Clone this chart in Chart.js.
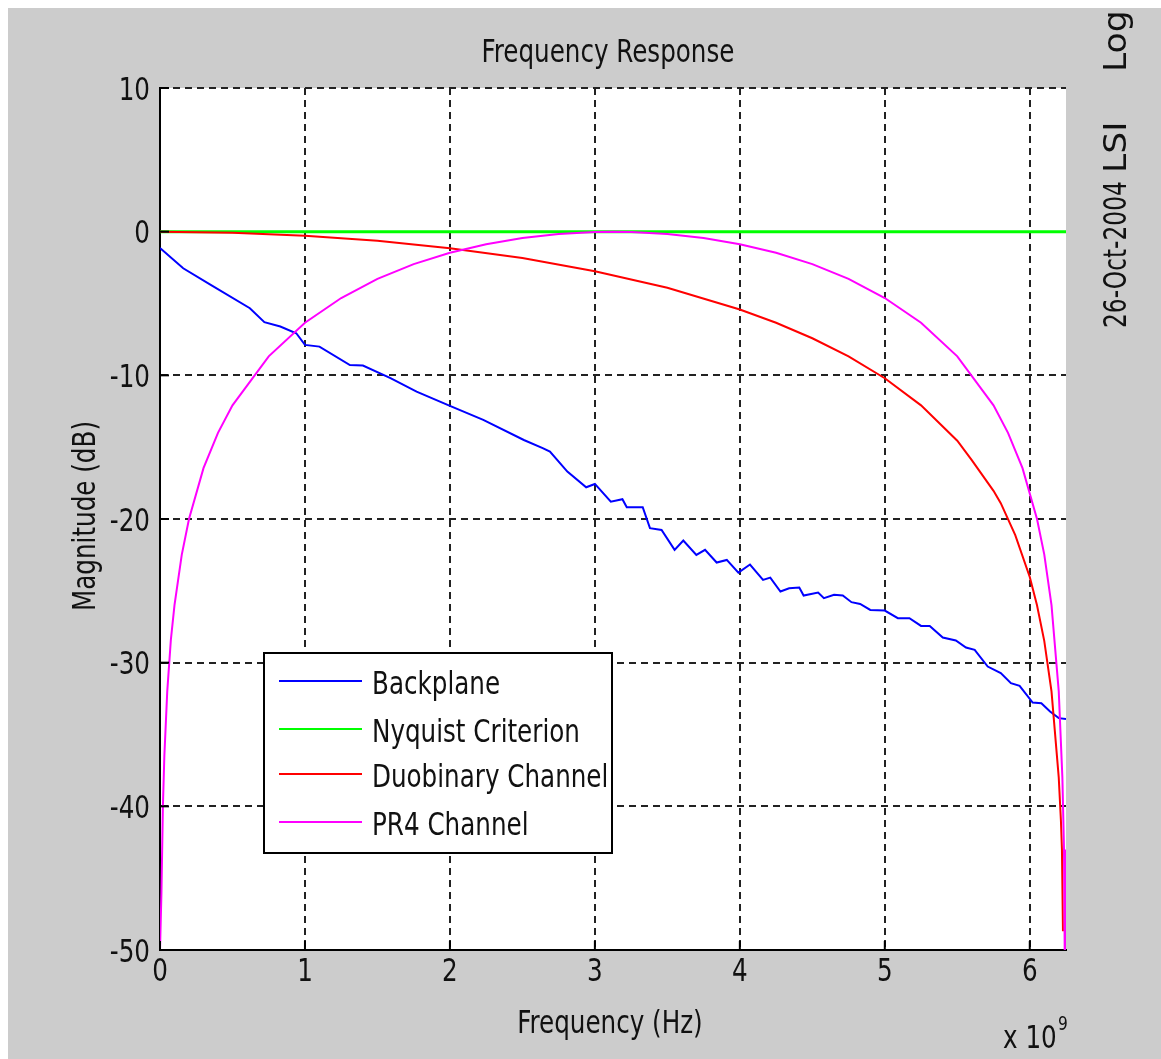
<!DOCTYPE html>
<html>
<head>
<meta charset="utf-8">
<title>Frequency Response</title>
<script src="https://cdn.jsdelivr.net/npm/chart.js@4.4.1/dist/chart.umd.min.js"></script>
<style>
  html, body { margin: 0; padding: 0; background: #ffffff; }
  #wrap { position: absolute; left: 8px; top: 8px; width: 1153px; height: 1051px; background: #cccccc; }
</style>
</head>
<body>
<div id="wrap"><canvas id="chart" width="1153" height="1051"></canvas></div>
<script>
// Frequency in units of 1e9 Hz, magnitude in dB
const freqBackplane = [0, 0.01, 0.16, 0.35, 0.62, 0.72, 0.83, 0.94, 1.00, 1.10, 1.31, 1.40, 1.59, 1.77, 2.00, 2.23, 2.51, 2.64, 2.69, 2.81, 2.94, 3.00, 3.11, 3.19, 3.22, 3.33, 3.38, 3.46, 3.55, 3.61, 3.70, 3.76, 3.84, 3.91, 3.99, 4.07, 4.16, 4.21, 4.28, 4.34, 4.41, 4.44, 4.54, 4.58, 4.65, 4.71, 4.77, 4.83, 4.90, 5.00, 5.09, 5.17, 5.25, 5.31, 5.40, 5.49, 5.56, 5.62, 5.71, 5.80, 5.87, 5.93, 6.02, 6.08, 6.14, 6.20, 6.25];
const magBackplane = [-1.15, -1.22, -2.55, -3.71, -5.33, -6.3, -6.6, -7.07, -7.88, -8.0, -9.28, -9.32, -10.2, -11.13, -12.13, -13.1, -14.5, -15.07, -15.31, -16.7, -17.79, -17.56, -18.79, -18.62, -19.18, -19.18, -20.64, -20.76, -22.15, -21.5, -22.5, -22.15, -23.03, -22.85, -23.73, -23.17, -24.24, -24.08, -25.05, -24.82, -24.77, -25.33, -25.12, -25.51, -25.28, -25.33, -25.79, -25.91, -26.33, -26.37, -26.9, -26.9, -27.44, -27.44, -28.25, -28.46, -28.95, -29.11, -30.27, -30.73, -31.43, -31.61, -32.78, -32.82, -33.4, -33.86, -33.93];

const freqNyquist = [0, 6.25];
const magNyquist = [0, 0];

const freqDuobinary = [0, 0.5, 1, 1.5, 2, 2.5, 3, 3.5, 4, 4.25, 4.5, 4.75, 5, 5.25, 5.5, 5.6, 5.75, 5.8, 5.9, 6.0, 6.05, 6.1, 6.15, 6.2, 6.215, 6.222, 6.229];
const magDuobinary = [0, -0.07, -0.28, -0.63, -1.15, -1.84, -2.75, -3.91, -5.42, -6.34, -7.42, -8.68, -10.2, -12.09, -14.55, -15.9, -18.04, -18.9, -21.12, -24.04, -26.0, -28.48, -32.0, -38.0, -41.0, -43.0, -48.7];

const freqPR4 = [0, 0.01, 0.02, 0.03, 0.05, 0.075, 0.1, 0.15, 0.2, 0.3, 0.4, 0.5, 0.75, 1.0, 1.25, 1.5, 1.75, 2.0, 2.25, 2.5, 2.75, 3.0, 3.125, 3.25, 3.5, 3.75, 4.0, 4.25, 4.5, 4.75, 5.0, 5.25, 5.5, 5.75, 5.85, 5.95, 6.05, 6.1, 6.15, 6.2, 6.225, 6.236, 6.241, 6.246, 6.25];
const magPR4 = [-50, -46, -40, -36.5, -32, -28.4, -26, -22.5, -20, -16.46, -14, -12.09, -8.68, -6.34, -4.62, -3.29, -2.26, -1.47, -0.87, -0.44, -0.16, -0.02, 0, -0.02, -0.16, -0.44, -0.87, -1.47, -2.26, -3.29, -4.62, -6.34, -8.68, -12.09, -14, -16.46, -20, -22.46, -26, -32, -38, -42.9, -50, -43, -50];

const xTicks = [0, 1, 2, 3, 4, 5, 6];
const xTickLabels = ['0', '1', '2', '3', '4', '5', '6'];
const yTicks = [10, 0, -10, -20, -30, -40, -50];
const yTickLabels = ['10', '0', '-10', '-20', '-30', '-40', '-50'];

const FONT = "'DejaVu Sans Condensed', 'DejaVu Sans', sans-serif";
const SX = 0.855; // schmale Schrift wie im MATLAB-Export

function toPoints(xs, ys) {
    return xs.map((x, i) => ({ x: x, y: ys[i] }));
}

function drawLabel(ctx, text, x, y, align, rot, size, sx) {
    ctx.save();
    ctx.translate(x, y);
    if (rot) ctx.rotate(rot);
    ctx.scale(sx || SX, 1);
    ctx.font = (size || 32) + 'px ' + FONT;
    ctx.textAlign = align;
    ctx.textBaseline = 'alphabetic';
    ctx.fillText(text, 0, 0);
    ctx.restore();
}

// Texte, Legende, Ticks nach innen
const decorPlugin = {
    id: 'decor',
    beforeDraw(chart) {
        const { ctx, chartArea: a } = chart;
        ctx.save();
        ctx.fillStyle = '#ffffff';
        ctx.fillRect(a.left, a.top, a.right - a.left, a.bottom - a.top);
        ctx.restore();
    },
    afterDraw(chart) {
        const { ctx, chartArea: a, scales } = chart;
        ctx.save();

        // inward tick marks
        ctx.strokeStyle = '#000';
        ctx.lineWidth = 2;
        xTicks.forEach(v => {
            const px = scales.x.getPixelForValue(v);
            ctx.beginPath();
            ctx.moveTo(px, a.bottom);
            ctx.lineTo(px, a.bottom - 9);
            ctx.stroke();
        });
        yTicks.forEach(v => {
            const py = scales.y.getPixelForValue(v);
            ctx.beginPath();
            ctx.moveTo(a.left, py);
            ctx.lineTo(a.left + 9, py);
            ctx.stroke();
        });

        ctx.fillStyle = '#111';

        // tick labels
        xTicks.forEach((v, i) => {
            drawLabel(ctx, xTickLabels[i], scales.x.getPixelForValue(v), a.bottom + 31, 'center');
        });
        yTicks.forEach((v, i) => {
            drawLabel(ctx, yTickLabels[i], a.left - 10, scales.y.getPixelForValue(v) + 11.5, 'right');
        });

        // title + axis titles
        drawLabel(ctx, 'Frequency Response', 600, 54, 'center');
        drawLabel(ctx, 'Frequency (Hz)', 602, 1025, 'center');
        drawLabel(ctx, 'Magnitude (dB)', 87, 508, 'center', -Math.PI / 2);

        // exponent
        drawLabel(ctx, 'x 10', 995, 1040, 'left');
        drawLabel(ctx, '9', 1050, 1022, 'left', 0, 20);

        // date stamp (rotated, right margin)
        drawLabel(ctx, '26-Oct-2004', 1118, 320, 'left', -Math.PI / 2, 32, 0.81);
        drawLabel(ctx, 'LSI', 1118, 165, 'left', -Math.PI / 2, 32, 1.2);
        drawLabel(ctx, 'Log', 1118, 64, 'left', -Math.PI / 2, 32, 1.2);

        // legend
        const box = { left: 256, top: 645, right: 604, bottom: 845 };
        ctx.fillStyle = '#ffffff';
        ctx.fillRect(box.left, box.top, box.right - box.left, box.bottom - box.top);
        ctx.strokeStyle = '#000';
        ctx.lineWidth = 2;
        ctx.strokeRect(box.left, box.top, box.right - box.left, box.bottom - box.top);
        const rows = [673, 721, 766, 814];
        chart.data.datasets.forEach((ds, i) => {
            ctx.strokeStyle = ds.borderColor;
            ctx.lineWidth = 2;
            ctx.beginPath();
            ctx.moveTo(271, rows[i]);
            ctx.lineTo(354, rows[i]);
            ctx.stroke();
            ctx.fillStyle = '#111';
            drawLabel(ctx, ds.label, 364, rows[i] + 13, 'left');
        });

        ctx.restore();
    }
};

const ctx = document.getElementById('chart').getContext('2d');
new Chart(ctx, {
    type: 'line',
    data: {
        datasets: [
            { label: 'Backplane', data: toPoints(freqBackplane, magBackplane), borderColor: '#0000ff', order: 4 },
            { label: 'Nyquist Criterion', data: toPoints(freqNyquist, magNyquist), borderColor: '#00ff00', borderWidth: 3, order: 3 },
            { label: 'Duobinary Channel', data: toPoints(freqDuobinary, magDuobinary), borderColor: '#ff0000', order: 2 },
            { label: 'PR4 Channel', data: toPoints(freqPR4, magPR4), borderColor: '#ff00ff', order: 1 }
        ]
    },
    options: {
        responsive: false,
        animation: false,
        devicePixelRatio: 1,
        layout: { padding: { left: 0, top: 80, right: 95, bottom: 0 } },
        elements: {
            point: { radius: 0 },
            line: { borderWidth: 2, tension: 0 }
        },
        plugins: {
            legend: { display: false },
            tooltip: { enabled: false }
        },
        scales: {
            x: {
                type: 'linear',
                min: 0,
                max: 6.25,
                afterBuildTicks: s => { s.ticks = xTicks.map(v => ({ value: v })); },
                afterFit: s => { s.height = 109; },
                ticks: { display: false },
                grid: { color: '#222', lineWidth: 2, drawTicks: false },
                border: { display: true, color: '#000', width: 2, dash: [7, 5] }
            },
            y: {
                min: -50,
                max: 10,
                afterBuildTicks: s => { s.ticks = yTicks.map(v => ({ value: v })); },
                afterFit: s => { s.width = 152; },
                ticks: { display: false },
                grid: { color: '#222', lineWidth: 2, drawTicks: false },
                border: { display: true, color: '#000', width: 2, dash: [7, 5] }
            }
        }
    },
    plugins: [decorPlugin]
});
</script>
</body>
</html>
